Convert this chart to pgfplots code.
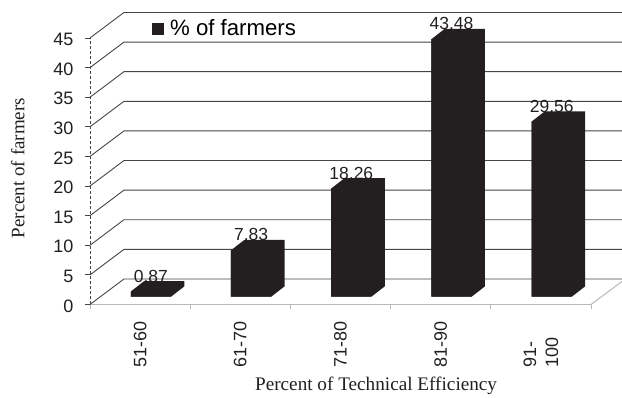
\documentclass[border=0pt]{standalone}
\usepackage{fontspec}
\setmainfont{Liberation Sans}
\newfontfamily\titlefont{Liberation Serif}
\usepackage{pgfplots}
\pgfplotsset{compat=1.18}
\definecolor{barblack}{HTML}{231F20}
\definecolor{gridgray}{HTML}{454545}
\definecolor{floorgray}{HTML}{B8B8B8}
\pgfplotstableread{
x     share
0.608 0.87
1.608 7.83
2.608 18.26
3.608 43.48
4.608 29.56
}\sharetable
\pgfplotsset{panel/.style={
  scale only axis, width=501pt, height=266.5pt,
  xmin=0, xmax=5, clip=false,
  /pgf/number format/assume math mode=true},
  wall/.style={draw=gridgray, line width=0.9pt, mark=none},
  face/.style={fill=barblack, draw=none, mark=none, forget plot}}
\begin{document}
\begin{tikzpicture}[x=1pt,y=1pt]
\path[use as bounding box] (-90,-93.5) rectangle (532,304.5);
% Back wall, slanted side wall and floor
\begin{axis}[panel, ymin=0, ymax=45,
  axis x line=bottom, axis y line=left,
  axis line style={-},
  y axis line style={densely dashed, gridgray, line width=0.7pt},
  x axis line style={floorgray, line width=1pt},
  ytick={0,5,...,45},
  xtick={0.5,1.5,2.5,3.5,4.5},
  minor xtick={0,1,2,3,4,5},
  xticklabels={51-60,61-70,71-80,81-90,{91-\\100}},
  tick label style={font=\fontsize{18}{19}\selectfont, text=barblack},
  yticklabel style={xshift=-8pt, yshift=-1.5pt},
  xticklabel style={rotate=90, anchor=west, align=left, inner sep=0pt,
    font=\fontsize{18}{22}\selectfont, xshift=-58pt},
  major x tick style={draw=none},
  minor x tick style={floorgray, line width=0.9pt},
  y tick style={gridgray, line width=0.8pt},
  tick align=outside,
  major tick length=5pt, minor tick length=5pt,
  xlabel={Percent of Technical Efficiency},
  ylabel={Percent of farmers},
  xlabel style={font=\titlefont\fontsize{19.2}{21}\selectfont, text=barblack, at={(axis description cs:0.571,-0.306)}, anchor=center},
  ylabel style={font=\titlefont\fontsize{19}{21}\selectfont, text=barblack, at={(axis description cs:-0.144,0.512)}, anchor=center, rotate=0},
]
\addplot[wall] coordinates {(0,0)(0.339,4.31)(5.31,4.31)};
\addplot[wall] coordinates {(0,5)(0.339,9.31)(5.31,9.31)};
\addplot[wall] coordinates {(0,10)(0.339,14.31)(5.31,14.31)};
\addplot[wall] coordinates {(0,15)(0.339,19.31)(5.31,19.31)};
\addplot[wall] coordinates {(0,20)(0.339,24.31)(5.31,24.31)};
\addplot[wall] coordinates {(0,25)(0.339,29.31)(5.31,29.31)};
\addplot[wall] coordinates {(0,30)(0.339,34.31)(5.31,34.31)};
\addplot[wall] coordinates {(0,35)(0.339,39.31)(5.31,39.31)};
\addplot[wall] coordinates {(0,40)(0.339,44.31)(5.31,44.31)};
\addplot[wall] coordinates {(0,45)(0.339,49.31)(5.31,49.31)};
\addplot[draw=floorgray, line width=1pt, mark=none] coordinates {(5,0)(5.31,3.9)};
\end{axis}
% Bars: each outline is the front face plus its top and side bevels, all from the same values
\begin{axis}[panel, ymin=-1.32, ymax=43.68, hide axis,
  legend style={draw=none, fill=none, at={(axis cs:0.62,45.25)}, anchor=west,
    font=\fontsize{22.2}{24}\selectfont, inner sep=0pt, outer sep=0pt,
    legend cell align=left},
  legend image code/.code={\fill[barblack] (0pt,-6pt) rectangle (12pt,6pt);},
]
\addplot[face] coordinates {(0.407,0)(0.809,0)(0.942,1.75)(0.942,2.62)(0.540,2.62)(0.407,0.87)} --cycle;
\addplot[face] coordinates {(1.407,0)(1.809,0)(1.942,1.75)(1.942,9.58)(1.540,9.58)(1.407,7.83)} --cycle;
\addplot[face] coordinates {(2.407,0)(2.809,0)(2.942,1.75)(2.942,20.01)(2.540,20.01)(2.407,18.26)} --cycle;
\addplot[face] coordinates {(3.407,0)(3.809,0)(3.942,1.75)(3.942,45.23)(3.540,45.23)(3.407,43.48)} --cycle;
\addplot[face] coordinates {(4.407,0)(4.809,0)(4.942,1.75)(4.942,31.31)(4.540,31.31)(4.407,29.56)} --cycle;
\addplot[ybar, bar width=40.3pt, fill=barblack, draw=none,
  nodes near coords={\pgfmathprintnumber[fixed, precision=2, fixed zerofill]{\pgfplotspointmeta}},
  nodes near coords style={font=\fontsize{17.5}{19}\selectfont, text=barblack, anchor=south, inner sep=0pt, yshift=9pt},
] table[x=x, y=share] {\sharetable};
\addlegendentry{\hspace{4pt}\% of farmers}
\end{axis}
\end{tikzpicture}
\end{document}
